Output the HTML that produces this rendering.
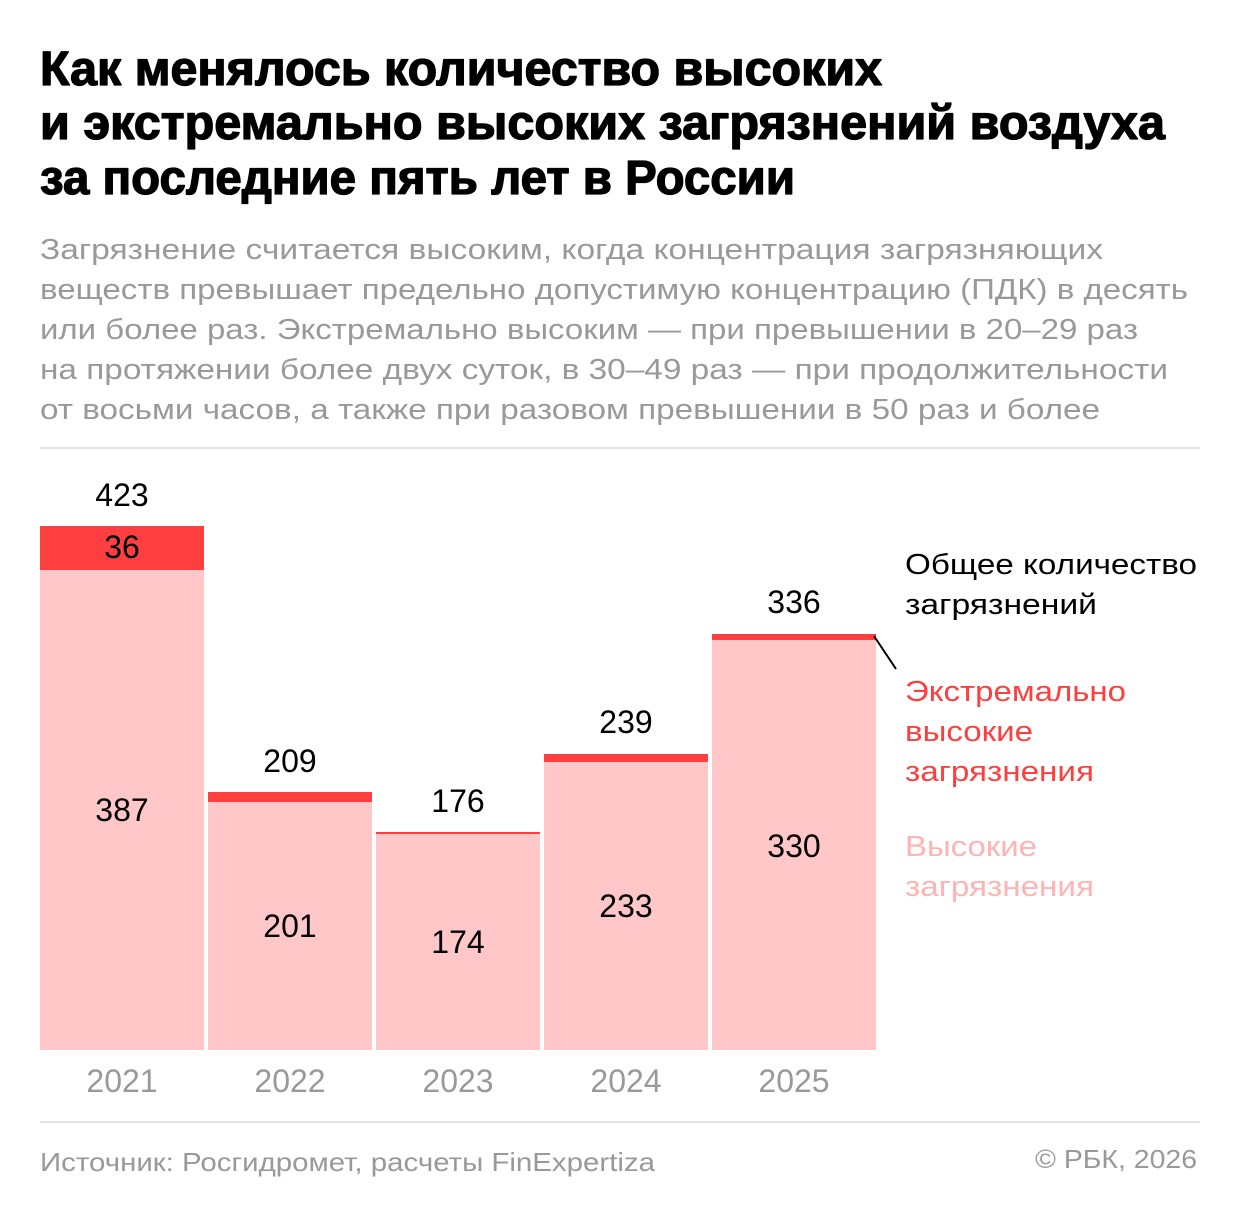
<!DOCTYPE html>
<html>
<head>
<meta charset="utf-8">
<style>
html,body{margin:0;padding:0;background:#fff;}
svg{display:block;}
text{font-family:"Liberation Sans","DejaVu Sans",sans-serif;}
</style>
</head>
<body>
<svg width="1240" height="1217" viewBox="0 0 1240 1217" xmlns="http://www.w3.org/2000/svg">
<rect width="1240" height="1217" fill="#fff"/>
<!-- Title -->
<g font-size="48" font-weight="bold" fill="#000" stroke="#000" stroke-width="1.3" stroke-linejoin="round">
<text x="40" y="85" textLength="842" lengthAdjust="spacingAndGlyphs">Как менялось количество высоких</text>
<text x="40" y="139" textLength="1125" lengthAdjust="spacingAndGlyphs">и экстремально высоких загрязнений воздуха</text>
<text x="40" y="194" textLength="755" lengthAdjust="spacingAndGlyphs">за последние пять лет в России</text>
</g>
<!-- Subtitle -->
<g font-size="29" fill="#999">
<text x="40" y="259" textLength="1063" lengthAdjust="spacingAndGlyphs">Загрязнение считается высоким, когда концентрация загрязняющих</text>
<text x="40" y="299" textLength="1148" lengthAdjust="spacingAndGlyphs">веществ превышает предельно допустимую концентрацию (ПДК) в десять</text>
<text x="40" y="339" textLength="1098" lengthAdjust="spacingAndGlyphs">или более раз. Экстремально высоким — при превышении в 20–29 раз</text>
<text x="40" y="379" textLength="1128" lengthAdjust="spacingAndGlyphs">на протяжении более двух суток, в 30–49 раз — при продолжительности</text>
<text x="40" y="419" textLength="1060" lengthAdjust="spacingAndGlyphs">от восьми часов, а также при разовом превышении в 50 раз и более</text>
</g>
<rect x="40" y="447" width="1160" height="2" fill="#e3e3e3"/>
<!-- Bars -->
<g>
<rect x="40" y="570" width="164" height="480" fill="#ffc7c7"/>
<rect x="40" y="526" width="164" height="44" fill="#ff3f3f"/>
<rect x="208" y="802" width="164" height="248" fill="#ffc7c7"/>
<rect x="208" y="792" width="164" height="10" fill="#ff3f3f"/>
<rect x="376" y="834" width="164" height="216" fill="#ffc7c7"/>
<rect x="376" y="832" width="164" height="2" fill="#ff3f3f"/>
<rect x="544" y="762" width="164" height="288" fill="#ffc7c7"/>
<rect x="544" y="754" width="164" height="8" fill="#ff3f3f"/>
<rect x="712" y="640" width="164" height="410" fill="#ffc7c7"/>
<rect x="712" y="634" width="164" height="6" fill="#ff3f3f"/>
</g>
<!-- Value labels -->
<g font-size="32" fill="#000" text-anchor="middle">
<text x="122" y="506">423</text>
<text x="122" y="558">36</text>
<text x="122" y="821">387</text>
<text x="290" y="772">209</text>
<text x="290" y="937">201</text>
<text x="458" y="812">176</text>
<text x="458" y="953">174</text>
<text x="626" y="733">239</text>
<text x="626" y="917">233</text>
<text x="794" y="613">336</text>
<text x="794" y="857">330</text>
</g>
<!-- Years -->
<g font-size="32" fill="#999" text-anchor="middle">
<text x="122" y="1092">2021</text>
<text x="290" y="1092">2022</text>
<text x="458" y="1092">2023</text>
<text x="626" y="1092">2024</text>
<text x="794" y="1092">2025</text>
</g>
<!-- Legend -->
<line x1="874" y1="636" x2="896" y2="669" stroke="#000" stroke-width="2"/>
<g font-size="29">
<text x="905" y="574" fill="#000" textLength="292" lengthAdjust="spacingAndGlyphs">Общее количество</text>
<text x="905" y="614" fill="#000" textLength="192" lengthAdjust="spacingAndGlyphs">загрязнений</text>
<text x="905" y="701" fill="#ff3f3f" textLength="221" lengthAdjust="spacingAndGlyphs">Экстремально</text>
<text x="905" y="741" fill="#ff3f3f" textLength="128" lengthAdjust="spacingAndGlyphs">высокие</text>
<text x="905" y="781" fill="#ff3f3f" textLength="189" lengthAdjust="spacingAndGlyphs">загрязнения</text>
<text x="905" y="856" fill="#ffb3b3" textLength="132" lengthAdjust="spacingAndGlyphs">Высокие</text>
<text x="905" y="896" fill="#ffb3b3" textLength="189" lengthAdjust="spacingAndGlyphs">загрязнения</text>
</g>
<rect x="40" y="1121" width="1160" height="2" fill="#e3e3e3"/>
<!-- Footer -->
<g font-size="26" fill="#999">
<text x="40" y="1171" textLength="615" lengthAdjust="spacingAndGlyphs">Источник: Росгидромет, расчеты FinExpertiza</text>
<text x="1197" y="1168" text-anchor="end" textLength="162" lengthAdjust="spacingAndGlyphs">© РБК, 2026</text>
</g>
</svg>
</body>
</html>
